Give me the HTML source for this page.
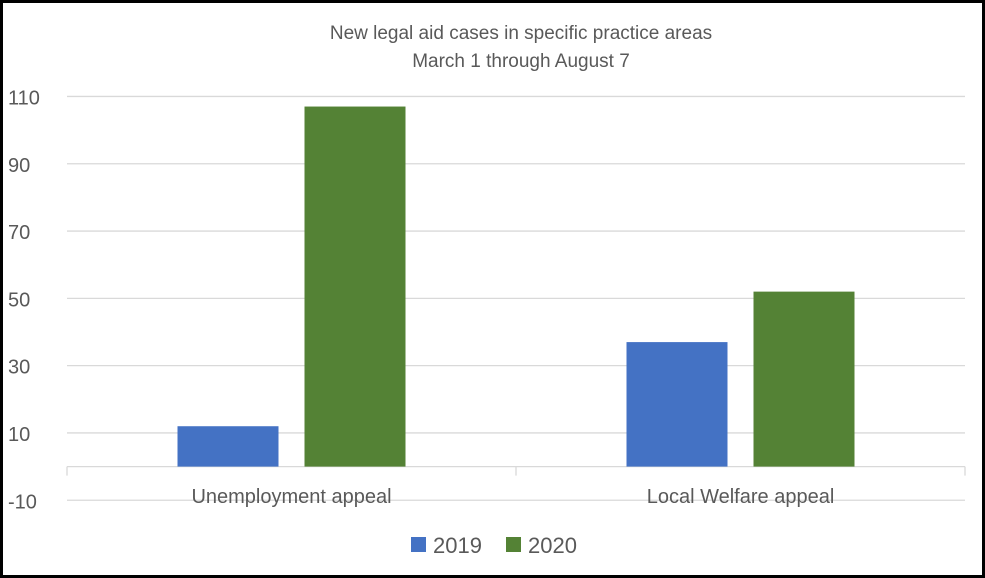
<!DOCTYPE html>
<html><head><meta charset="utf-8"><style>
html,body{margin:0;padding:0;background:#fff}
svg{display:block;font-family:"Liberation Sans",sans-serif}
</style></head><body>
<svg width="985" height="578" viewBox="0 0 985 578">
<rect x="1.5" y="1.5" width="982" height="575" fill="#fff" stroke="#000" stroke-width="3"/>
<g id="title" fill="#595959" font-size="19" text-anchor="middle">
<text x="521" y="39">New legal aid cases in specific practice areas</text>
<text x="521" y="67">March 1 through August 7</text>
</g>
<g id="grid"></g><g id="bars"></g><g id="labels"></g>
<g id="legend">
<rect x="411" y="537" width="15" height="15" fill="#4472c4"/>
<text x="433" y="553" font-size="22" fill="#595959">2019</text>
<rect x="506" y="537" width="15" height="15" fill="#548235"/>
<text x="528" y="553" font-size="22" fill="#595959">2020</text>
</g>
</svg>
<script>
const categories = ["Unemployment appeal", "Local Welfare appeal"];
const series2019 = [12, 37];
const series2020 = [107, 52];
const tickValues = [-10, 10, 30, 50, 70, 90, 110];
const seriesColors = ["#4472c4", "#548235"];

const NS = "http://www.w3.org/2000/svg";
const plotL = 67, plotR = 965;
const y0px = 466.6, pxPerUnit = 67.3 / 20;
function yScale(v){ return y0px - v * pxPerUnit; }
const catW = (plotR - plotL) / categories.length;
function xCat(i){ return plotL + catW * i; }
function mk(tag, attrs, parent){ const e = document.createElementNS(NS, tag); for (const k in attrs) e.setAttribute(k, attrs[k]); parent.appendChild(e); return e; }

const grid = document.getElementById("grid");
tickValues.forEach(v => {
  const y = yScale(v);
  const l = mk("line", {x1: plotL, x2: plotR, y1: y, y2: y, stroke: "#d9d9d9", "stroke-width": 1.3}, grid);
  
  
  const t = mk("text", {x: 8, y: y + 8, "font-size": 20, fill: "#595959"}, grid);
  
  
  t.textContent = v;
});
const ax = mk("line", {x1: plotL, x2: plotR, y1: yScale(0), y2: yScale(0), stroke: "#d9d9d9", "stroke-width": 1.3}, grid);


for (let i = 0; i <= categories.length; i++) {
  const tk = mk("line", {x1: xCat(i), x2: xCat(i), y1: yScale(0), y2: yScale(0) + 9, stroke: "#d9d9d9", "stroke-width": 1.3}, grid);
  
  
}

const bars = document.getElementById("bars");
const barW = 101, gap = 26;
[series2019, series2020].forEach((s, si) => {
  s.forEach((v, i) => {
    const cx = xCat(i) + catW / 2;
    const x = cx - barW - gap / 2 + si * (barW + gap);
    const yt = yScale(Math.max(v, 0)), yb = yScale(Math.min(v, 0));
    const r = mk("rect", {x: x, y: yt, width: barW, height: yb - yt, fill: seriesColors[si]}, bars);
    
    
  });
});

const labels = document.getElementById("labels");
categories.forEach((c, i) => {
  const t = mk("text", {x: xCat(i) + catW / 2, y: 503, "font-size": 20, fill: "#595959", "text-anchor": "middle"}, labels);
  
  
  t.textContent = c;
});
</script>
</body></html>
